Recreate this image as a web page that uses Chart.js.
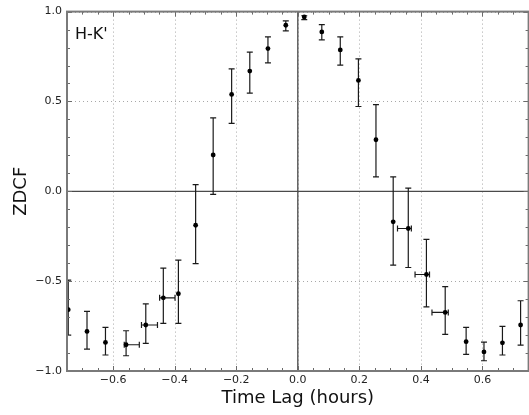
<!DOCTYPE html>
<html><head><meta charset="utf-8">
<script src="https://cdn.jsdelivr.net/npm/chart.js@4/dist/chart.umd.min.js"></script>
<style>html,body{margin:0;padding:0;background:#fff;overflow:hidden}#wrap{position:relative;width:531px;height:415px}</style>
</head><body><div id="wrap"><canvas id="c" width="531" height="415"></canvas></div>
<script>
// ---- data ----
const lag      = [-0.746,-0.685,-0.625,-0.558,-0.494,-0.437,-0.388,-0.332,-0.275,-0.215,-0.156,-0.097,-0.039,0.021,0.078,0.138,0.197,0.254,0.310,0.359,0.418,0.479,0.547,0.605,0.665,0.724];
const zdcf     = [-0.659,-0.780,-0.841,-0.854,-0.744,-0.593,-0.570,-0.189,0.202,0.539,0.669,0.794,0.924,0.970,0.887,0.787,0.617,0.287,-0.170,-0.207,-0.463,-0.674,-0.837,-0.894,-0.843,-0.744];
const zdcfLow  = [-0.800,-0.878,-0.911,-0.915,-0.846,-0.735,-0.735,-0.402,-0.017,0.378,0.546,0.715,0.893,0.955,0.843,0.702,0.472,0.080,-0.411,-0.424,-0.643,-0.796,-0.907,-0.943,-0.911,-0.856];
const zdcfHigh = [-0.494,-0.668,-0.757,-0.776,-0.626,-0.428,-0.383,0.037,0.409,0.681,0.774,0.859,0.948,0.977,0.928,0.859,0.737,0.482,0.080,0.018,-0.268,-0.530,-0.757,-0.839,-0.752,-0.609];
const lagLow   = [-0.746,-0.685,-0.625,-0.564,-0.508,-0.449,-0.388,-0.332,-0.275,-0.215,-0.156,-0.097,-0.039,0.021,0.078,0.138,0.197,0.254,0.310,0.324,0.381,0.436,0.547,0.605,0.665,0.724];
const lagHigh  = [-0.746,-0.685,-0.625,-0.515,-0.456,-0.399,-0.388,-0.332,-0.275,-0.215,-0.156,-0.097,-0.039,0.021,0.078,0.138,0.197,0.254,0.310,0.369,0.428,0.489,0.547,0.605,0.665,0.724];
const xTickVals = [-0.6,-0.4,-0.2,0.0,0.2,0.4,0.6];
const yTickVals = [-1.0,-0.5,0.0,0.5,1.0];
const xRange = [-0.75, 0.75];
const yRange = [-1.0, 1.0];
const xMinorStep = 0.05, yMinorStep = 0.1;
const panelLabel = "H-K'";
const xTitle = 'Time Lag (hours)';
const yTitle = 'ZDCF';

const FONT = 'DejaVu Sans';
const fmt = v => (v < -1e-9 ? '\u2212' : '') + Math.abs(v).toFixed(1);

const decor = {
  id: 'decor',
  beforeDatasetsDraw(chart) {
    const {ctx, chartArea: a, scales: {x, y}} = chart;
    ctx.save();
    ctx.beginPath(); ctx.rect(a.left, a.top, a.right - a.left, a.bottom - a.top); ctx.clip();
    // dotted grid
    ctx.strokeStyle = '#a8a8a8'; ctx.lineWidth = 1; ctx.setLineDash([1, 3]);
    xTickVals.forEach(v => { const px = Math.round(x.getPixelForValue(v)) + 0.5; ctx.beginPath(); ctx.moveTo(px, a.top); ctx.lineTo(px, a.bottom); ctx.stroke(); });
    yTickVals.forEach(v => { const py = Math.round(y.getPixelForValue(v)) + 0.5; ctx.beginPath(); ctx.moveTo(a.left, py); ctx.lineTo(a.right, py); ctx.stroke(); });
    ctx.setLineDash([]);
    // zero lines
    ctx.strokeStyle = '#4a4a4a'; ctx.lineWidth = 1.3;
    const x0 = x.getPixelForValue(0), y0 = y.getPixelForValue(0);
    ctx.beginPath(); ctx.moveTo(x0, a.top); ctx.lineTo(x0, a.bottom); ctx.stroke();
    ctx.beginPath(); ctx.moveTo(a.left, y0); ctx.lineTo(a.right, y0); ctx.stroke();
    // error bars
    ctx.strokeStyle = '#1a1a1a'; ctx.lineWidth = 1.2;
    const cap = 3;
    lag.forEach((lx, i) => {
      const px = x.getPixelForValue(lx);
      const yl = y.getPixelForValue(zdcfLow[i]), yh = y.getPixelForValue(zdcfHigh[i]);
      ctx.beginPath();
      ctx.moveTo(px, yl); ctx.lineTo(px, yh);
      ctx.moveTo(px - cap, yl); ctx.lineTo(px + cap, yl);
      ctx.moveTo(px - cap, yh); ctx.lineTo(px + cap, yh);
      ctx.stroke();
      if (lagHigh[i] - lagLow[i] > 1e-6) {
        const py = y.getPixelForValue(zdcf[i]);
        const xl = x.getPixelForValue(lagLow[i]), xh = x.getPixelForValue(lagHigh[i]);
        ctx.beginPath();
        ctx.moveTo(xl, py); ctx.lineTo(xh, py);
        ctx.moveTo(xl, py - cap); ctx.lineTo(xl, py + cap);
        ctx.moveTo(xh, py - cap); ctx.lineTo(xh, py + cap);
        ctx.stroke();
      }
    });
    ctx.restore();
  },
  afterDatasetsDraw(chart) {
    const {ctx, chartArea: a, scales: {x, y}} = chart;
    ctx.save();
    // ticks (inward, all four sides)
    ctx.strokeStyle = '#6a6a6a'; ctx.lineWidth = 1;
    const isMajor = (v, arr) => arr.some(t => Math.abs(t - v) < 1e-6);
    for (let k = Math.ceil(xRange[0] / xMinorStep - 1e-6); k * xMinorStep <= xRange[1] + 1e-6; k++) {
      const v = k * xMinorStep; const len = isMajor(v, xTickVals) ? 5 : 3;
      const px = Math.round(x.getPixelForValue(v)) + 0.5;
      ctx.beginPath(); ctx.moveTo(px, a.bottom); ctx.lineTo(px, a.bottom - len); ctx.moveTo(px, a.top); ctx.lineTo(px, a.top + len); ctx.stroke();
    }
    for (let k = Math.ceil(yRange[0] / yMinorStep - 1e-6); k * yMinorStep <= yRange[1] + 1e-6; k++) {
      const v = k * yMinorStep; const len = isMajor(v, yTickVals) ? 5 : 3;
      const py = Math.round(y.getPixelForValue(v)) + 0.5;
      ctx.beginPath(); ctx.moveTo(a.left, py); ctx.lineTo(a.left + len, py); ctx.moveTo(a.right, py); ctx.lineTo(a.right - len, py); ctx.stroke();
    }
    // spines
    ctx.strokeStyle = '#7a7a7a'; ctx.lineWidth = 2;
    ctx.strokeRect(a.left, a.top, a.right - a.left, a.bottom - a.top);
    // panel label
    ctx.fillStyle = '#111'; ctx.font = '16px "' + FONT + '"'; ctx.textBaseline = 'alphabetic'; ctx.textAlign = 'left';
    ctx.fillText(panelLabel, a.left + 8, a.top + 27);
    ctx.restore();
  }
};

new Chart(document.getElementById('c'), {
  type: 'scatter',
  data: { datasets: [{ data: lag.map((v, i) => ({x: v, y: zdcf[i]})), pointRadius: 2.4, pointHoverRadius: 2.4, pointBackgroundColor: '#000', pointBorderColor: '#000', pointBorderWidth: 0, showLine: false }] },
  options: {
    responsive: false, devicePixelRatio: 1, animation: false,
    layout: { padding: { top: 10, left: 0, right: 2, bottom: 0 } },
    plugins: { legend: { display: false }, tooltip: { enabled: false } },
    scales: {
      x: {
        type: 'linear', position: 'bottom', min: xRange[0], max: xRange[1],
        afterBuildTicks: s => { s.ticks = xTickVals.map(v => ({value: v})); },
        afterFit: s => { s.height = 44; },
        grid: { display: false, drawTicks: false }, border: { display: false },
        ticks: { font: { family: FONT, size: 11 }, color: '#222', padding: 3, maxRotation: 0, autoSkip: false, callback: v => fmt(v) },
        title: { display: true, text: xTitle, font: { family: FONT, size: 18 }, color: '#111', padding: { top: 0, bottom: 6 } }
      },
      y: {
        type: 'linear', position: 'left', min: yRange[0], max: yRange[1],
        afterBuildTicks: s => { s.ticks = yTickVals.map(v => ({value: v})); },
        afterFit: s => { s.width = 67; },
        grid: { display: false, drawTicks: false }, border: { display: false },
        ticks: { font: { family: FONT, size: 11 }, color: '#222', padding: 5, autoSkip: false, callback: v => fmt(v) },
        title: { display: true, text: yTitle, font: { family: FONT, size: 18 }, color: '#111', padding: { top: 11, bottom: 0 } }
      }
    }
  },
  plugins: [decor]
});
</script></body></html>
